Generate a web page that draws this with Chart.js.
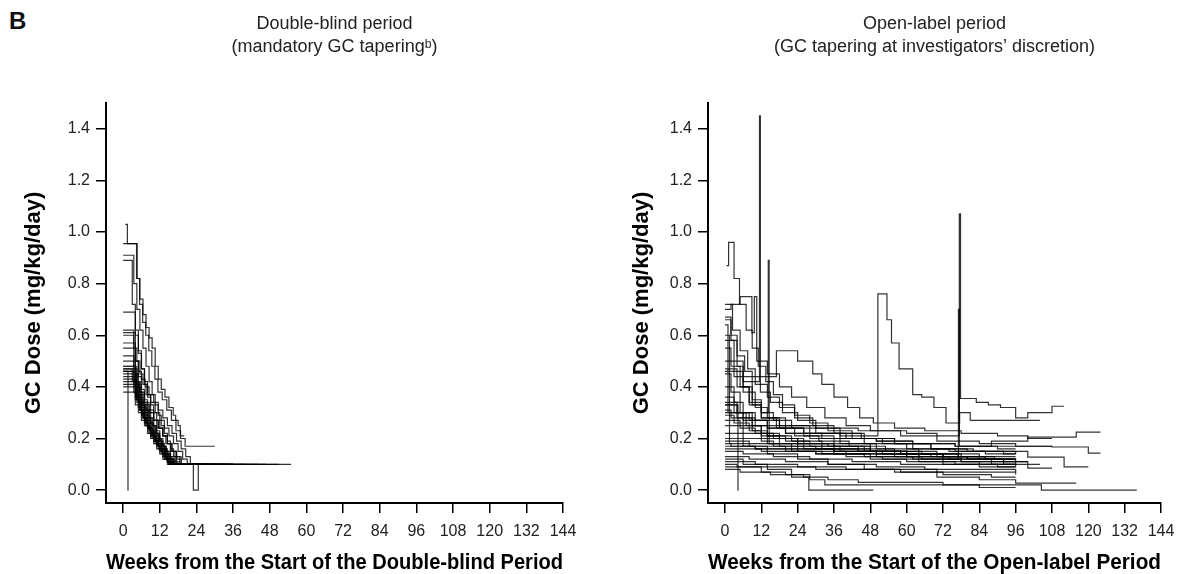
<!DOCTYPE html>
<html>
<head>
<meta charset="utf-8">
<script src="https://cdn.jsdelivr.net/npm/chart.js@4.4.1/dist/chart.umd.min.js"></script>
<style>
  html, body { margin: 0; padding: 0; background: #fff; overflow: hidden; }
  #wrap { position: relative; width: 1189px; height: 574px; }
  #panelLabel { position: absolute; left: 9px; top: 9px; font: bold 24px "Liberation Sans", Arial, sans-serif; line-height: 1; color: #111; }
  canvas { position: absolute; top: 0; }
  #chartDoubleBlind { left: 0; }
  #chartOpenLabel { left: 600px; }
</style>
</head>
<body>
<div id="wrap">
  <div id="panelLabel">B</div>
  <canvas id="chartDoubleBlind" width="600" height="574"></canvas>
  <canvas id="chartOpenLabel" width="589" height="574"></canvas>
</div>
<script>
// tick labels shared by both panels
const weekTicks = [0, 12, 24, 36, 48, 60, 72, 84, 96, 108, 120, 132, 144];
const doseTicks = [0, 0.2, 0.4, 0.6, 0.8, 1.0, 1.2, 1.4];

// double-blind period: [week, GC dose mg/kg/day] at each dose change, one array per patient
const db01 = [[0.7,1.03],[1.4,0.955],[4.6,0.82],[5.5,0.74],[6.5,0.68],[7.5,0.63],[8.5,0.59],[9.5,0.55],[10.5,0.48],[11.5,0.43],[12.5,0.39],[13.7,0.36],[15,0.32],[16.4,0.29],[17.2,0.27],[18,0.25],[18.7,0.21],[20,0.21]];
const db02 = [[0,0.955],[4.4,0.82],[5.4,0.72],[6.4,0.65],[7.4,0.6],[8.4,0.54],[9.4,0.48],[10.4,0.43],[11.4,0.38],[12.8,0.35],[14.3,0.31],[15.8,0.27],[17.3,0.23],[18.8,0.2],[20.3,0.17],[30,0.17]];
const db03 = [[0,0.91],[3.5,0.8],[4.5,0.7],[5.5,0.62],[6.5,0.55],[7.5,0.48],[8.5,0.42],[9.5,0.37],[10.5,0.33],[11.5,0.29],[12.5,0.25],[13.5,0.22],[14.5,0.19],[15.5,0.16],[16.5,0.13],[17.5,0.1],[28,0.1]];
const db04 = [[0,0.89],[3,0.72],[4,0.62],[5,0.54],[6,0.47],[7,0.41],[8,0.36],[9,0.31],[10,0.27],[11,0.23],[12,0.2],[13,0.17],[14,0.14],[15.5,0.12],[17,0.1],[26,0.1]];
const db05 = [[0,0.69],[4,0.6],[5,0.53],[6,0.47],[7,0.42],[8,0.37],[9,0.33],[10,0.3],[11,0.27],[12,0.24],[13,0.21],[14,0.18],[15.5,0.15],[17,0.13],[18.5,0.1],[30,0.1]];
const db06 = [[0,0.62],[3.5,0.55],[4.5,0.5],[5.5,0.45],[6.5,0.41],[7.5,0.37],[9,0.34],[10.5,0.3],[12,0.27],[13.5,0.24],[15,0.21],[16.5,0.18],[18,0.15],[19.5,0.12],[21,0.1],[36,0.1]];
const db07 = [[0,0.61],[4,0.5],[5,0.44],[6,0.39],[7,0.35],[8,0.31],[9,0.28],[10,0.25],[11,0.22],[12,0.19],[13,0.16],[14,0.13],[15.5,0.1],[36,0.1]];
const db08 = [[0,0.6],[3.5,0.47],[4.5,0.42],[5.5,0.38],[6.5,0.34],[7.5,0.31],[8.5,0.28],[9.5,0.25],[10.5,0.22],[11.5,0.2],[12.5,0.17],[13.5,0.15],[14.5,0.12],[16,0.1],[34,0.1]];
const db09 = [[0,0.57],[4,0.45],[5,0.41],[6,0.37],[7,0.33],[8.5,0.3],[10,0.27],[11.5,0.24],[13,0.21],[14.5,0.18],[16,0.15],[17.5,0.13],[19,0.1],[24,0.1]];
const db10 = [[0,0.55],[4,0.5],[5,0.46],[6,0.43],[7.2,0.4],[8.5,0.37],[10,0.34],[11.5,0.31],[13,0.28],[14.5,0.25],[16,0.22],[17.5,0.19],[19,0.16],[20.5,0.13],[22,0.1],[25,0.1]];
const db11 = [[0,0.52],[3.5,0.44],[4.5,0.4],[5.5,0.36],[6.5,0.33],[7.5,0.3],[8.5,0.27],[9.5,0.25],[10.5,0.22],[11.5,0.2],[12.5,0.18],[13.5,0.16],[14.5,0.14],[15.5,0.12],[16.5,0.1],[24,0.1]];
const db12 = [[0,0.5],[4,0.42],[5,0.38],[6,0.34],[7,0.31],[8,0.28],[9,0.26],[10,0.23],[11,0.21],[12,0.19],[13,0.17],[14,0.15],[15,0.13],[16,0.11],[17,0.1],[28,0.1]];
const db13 = [[0,0.48],[4.5,0.4],[5.5,0.35],[6.5,0.32],[7.5,0.29],[8.5,0.26],[9.5,0.23],[10.5,0.2],[11.5,0.18],[12.5,0.16],[13.5,0.14],[14.5,0.12],[15.5,0.1],[51,0.1]];
const db14 = [[0,0.47],[3,0.42],[4,0.37],[5,0.33],[6,0.3],[7,0.27],[8,0.25],[9,0.22],[10,0.2],[11,0.18],[12,0.16],[13,0.14],[14,0.12],[15,0.1],[36,0.1]];
const db15 = [[0,0.46],[4,0.38],[5,0.34],[6,0.31],[7,0.28],[8,0.25],[9,0.23],[10,0.21],[11,0.19],[12.5,0.17],[14,0.15],[15.5,0.13],[17,0.11],[18,0.1],[23,0],[24.6,0.1],[27,0.1]];
const db16 = [[0,0.46],[3.5,0.4],[4.5,0.36],[5.5,0.32],[6.5,0.29],[7.5,0.26],[8.5,0.24],[9.5,0.21],[10.5,0.19],[11.5,0.17],[12.5,0.15],[13.5,0.13],[14.5,0.11],[15.5,0.1],[32,0.1]];
const db17 = [[0,0.45],[4.5,0.37],[5.5,0.34],[6.5,0.3],[7.5,0.27],[8.5,0.24],[9.5,0.22],[10.5,0.2],[11.5,0.18],[12.5,0.16],[13.5,0.14],[15,0.12],[16.5,0.1],[40,0.1]];
const db18 = [[0,0.44],[3.5,0.38],[4.5,0.35],[5.5,0.31],[6.5,0.28],[7.5,0.26],[8.5,0.23],[9.5,0.21],[10.5,0.19],[11.5,0.17],[12.5,0.15],[13.5,0.13],[14.5,0.11],[16,0.1],[26,0.1]];
const db19 = [[0,0.43],[4,0.36],[5,0.33],[6,0.3],[7,0.27],[8,0.25],[9,0.22],[10,0.2],[11,0.18],[12,0.16],[13,0.14],[14,0.12],[15,0.1],[44,0.1]];
const db20 = [[0,0.42],[4.5,0.35],[5.5,0.31],[6.5,0.28],[7.5,0.25],[8.5,0.23],[9.5,0.21],[10.5,0.19],[11.5,0.17],[12.5,0.15],[13.5,0.13],[14.5,0.11],[16,0.1],[55,0.1]];
const db21 = [[0,0.41],[4,0.35],[5,0.32],[6,0.29],[7,0.26],[8,0.24],[9,0.21],[10,0.19],[11,0.17],[12,0.15],[13,0.13],[14.5,0.11],[16,0.1],[34,0.1]];
const db22 = [[0,0.4],[4.5,0.34],[5.5,0.31],[6.5,0.28],[7.5,0.25],[8.5,0.22],[9.5,0.2],[10.5,0.18],[11.5,0.16],[12.5,0.14],[13.5,0.12],[15,0.1],[47,0.1]];
const db23 = [[0,0.38],[4,0.33],[5,0.3],[6,0.27],[7,0.25],[8,0.22],[9,0.2],[10,0.18],[11,0.16],[12,0.14],[13,0.12],[14.5,0.1],[30,0.1]];
const db24 = [[0,0.46],[1.6,0],[1.8,0]];
const db25 = [[0,0.47],[4,0.41],[5,0.37],[6,0.33],[7,0.3],[8,0.27],[9,0.24],[10,0.22],[11,0.2],[12,0.18],[13,0.16],[14,0.14],[15,0.12],[16.5,0.1],[36,0.1]];
const db26 = [[0,0.48],[4,0.42],[5.5,0.38],[7,0.34],[8.5,0.3],[10,0.27],[11.5,0.24],[13,0.21],[14.5,0.18],[16,0.15],[17.5,0.12],[19,0.1],[28,0.1]];

// open-label period
const ol01 = [[0.5,0.87],[1.2,0.96],[3,0.82],[4.8,0.72],[7,0.62],[9,0.55],[11,0.48],[13.5,0.42],[16,0.37],[19,0.33],[23,0.29],[28,0.26],[34,0.23],[42,0.2],[52,0.18],[62,0.16],[74,0.15],[86,0.14],[96,0.14]];
const ol02 = [[0,0.66],[2,0.6],[4,0.52],[6.5,0.46],[9,0.42],[11.4,1.45],[11.7,0.38],[15,0.34],[19,0.3],[24,0.27],[30,0.24],[38,0.22],[46,0.2],[56,0.18],[68,0.16],[80,0.15],[92,0.14],[96,0.14]];
const ol03 = [[0,0.58],[3,0.5],[6,0.42],[9,0.35],[12,0.3],[14.3,0.89],[14.6,0.18],[22,0.17],[32,0.16],[44,0.15],[56,0.14],[68,0.13],[80,0.12],[92,0.11],[100,0.11]];
const ol04 = [[0,0.7],[2,0.72],[5,0.75],[8.9,0.61],[9.7,0.75],[10.5,0.5],[14,0.45],[18,0.4],[22,0.36],[27,0.32],[33,0.28],[40,0.25],[48,0.23],[58,0.21],[70,0.19],[84,0.18],[96,0.17],[108,0.17]];
const ol05 = [[0,0.46],[6,0.44],[17,0.54],[24,0.5],[29,0.45],[32,0.41],[36,0.36],[40.5,0.32],[44.5,0.28],[49,0.26],[56,0.24],[66,0.23],[78,0.22],[90,0.21],[100,0.2],[108,0.2]];
const ol06 = [[0,0.3],[6,0.27],[14,0.24],[26,0.22],[38,0.21],[50.5,0.76],[53.5,0.66],[55,0.57],[57.5,0.47],[62,0.37],[65,0.36],[69,0.32],[73,0.26],[77.5,0.3],[81,0.27],[104,0.27]];
const ol07 = [[0,0.34],[4,0.3],[10,0.27],[18,0.25],[30,0.24],[44,0.23],[60,0.22],[70,0.21],[77.4,1.07],[77.8,0.355],[83,0.34],[87,0.33],[91,0.32],[96,0.28],[100,0.3],[108,0.325],[112,0.325]];
const ol08 = [[0,0.16],[12,0.15],[30,0.14],[50,0.13],[65,0.12],[77.1,0.7],[77.4,0.17],[90,0.16],[96,0.16]];
const ol09 = [[0,0.08],[5,0.07],[15,0.06],[22,0.05],[27.7,0],[49,0]];
const ol10 = [[0,0.12],[6,0.1],[14,0.08],[22,0.06],[28,0.04],[33,0.02],[70,0.02],[104.5,0],[136,0]];
const ol11 = [[0,0.67],[2,0.58],[4,0.48],[6,0.4],[9,0.33],[12,0.28],[17,0.24],[23,0.21],[31,0.19],[41,0.17],[53,0.15],[65,0.14],[77,0.13],[89,0.12],[96,0.12]];
const ol12 = [[0,0.72],[2.5,0.62],[5,0.54],[7.5,0.47],[10,0.41],[14,0.36],[18,0.32],[23,0.28],[29,0.25],[36,0.22],[45,0.2],[56,0.18],[68,0.16],[82,0.15],[100,0.128],[112,0.09],[120,0.09]];
const ol13 = [[0,0.55],[2,0.48],[5,0.4],[8,0.34],[12,0.3],[16,0.27],[22,0.24],[30,0.22],[40,0.2],[50,0.19],[62,0.18],[76,0.17],[88,0.19],[100,0.205],[116,0.225],[124,0.225]];
const ol14 = [[0,0.5],[3,0.44],[6,0.38],[10,0.32],[14,0.28],[20,0.25],[28,0.22],[38,0.2],[50,0.19],[62,0.18],[76,0.17],[90,0.17],[108,0.167],[120,0.143],[124,0.143]];
const ol15 = [[0,0.47],[4,0.4],[8,0.33],[12,0.28],[18,0.24],[26,0.21],[36,0.18],[48,0.15],[60,0.13],[72,0.11],[84,0.1],[96,0.09]];
const ol16 = [[0,0.45],[2,0.38],[5,0.3],[9,0.25],[14,0.21],[20,0.19],[28,0.17],[38,0.15],[50,0.14],[64,0.13],[80,0.12],[96,0.11]];
const ol17 = [[0,0.33],[4,0.3],[8,0.27],[14,0.24],[20,0.22],[28,0.2],[38,0.18],[50,0.16],[64,0.14],[78,0.12],[92,0.11],[100,0.085],[108,0.085]];
const ol18 = [[0,0.31],[2,0.28],[6,0.25],[12,0.22],[18,0.2],[26,0.18],[36,0.17],[48,0.15],[60,0.13],[74,0.12],[88,0.1],[96,0.1]];
const ol19 = [[0,0.29],[3,0.26],[8,0.23],[14,0.21],[22,0.19],[32,0.17],[44,0.16],[56,0.15],[70,0.14],[84,0.13],[96,0.13]];
const ol20 = [[0,0.27],[5,0.24],[10,0.22],[16,0.2],[24,0.18],[34,0.17],[46,0.15],[58,0.14],[72,0.13],[86,0.12],[96,0.12]];
const ol21 = [[0,0.2],[6,0.17],[14,0.14],[24,0.12],[34,0.1],[46,0.08],[58,0.07],[70,0.05],[84,0.04],[96,0.027],[116,0.027]];
const ol22 = [[0,0.22],[6,0.2],[14,0.18],[24,0.16],[36,0.15],[50,0.14],[64,0.12],[78,0.11],[92,0.1],[104,0.1]];
const ol23 = [[0,0.19],[8,0.18],[18,0.17],[30,0.16],[44,0.15],[58,0.14],[72,0.13],[86,0.12],[96,0.12]];
const ol24 = [[0,0.18],[2,0.17],[10,0.16],[20,0.15],[32,0.14],[46,0.13],[62,0.12],[78,0.11],[96,0.1]];
const ol25 = [[0,0.15],[6,0.14],[16,0.13],[28,0.12],[42,0.11],[58,0.1],[74,0.1],[90,0.09],[96,0.09]];
const ol26 = [[0,0.13],[8,0.12],[20,0.11],[34,0.1],[50,0.09],[66,0.08],[82,0.08],[96,0.07]];
const ol27 = [[0,0.11],[10,0.1],[24,0.09],[40,0.08],[56,0.07],[72,0.06],[88,0.05],[96,0.05]];
const ol28 = [[0,0.1],[4,0.09],[12,0.07],[20,0.06],[26,0.05],[34,0.04],[44,0.03],[60,0.03],[72,0.02],[84,0.01],[96,0.01]];
const ol29 = [[0,0.09],[12,0.09],[30,0.08],[50,0.08],[70,0.07],[96,0.06]];
const ol30 = [[0,0.4],[3,0.34],[6,0.28],[9,0.23],[12,0.19],[16,0.17],[22,0.15],[30,0.14],[40,0.13],[52,0.12],[64,0.11],[76,0.1],[88,0.1],[96,0.1]];
const ol31 = [[0,0.36],[3,0.3],[7,0.25],[12,0.21],[18,0.18],[26,0.16],[36,0.14],[48,0.12],[60,0.11],[72,0.1],[84,0.09],[96,0.09]];
const ol32 = [[0,0.25],[6,0.22],[14,0.2],[24,0.18],[36,0.16],[48,0.15],[60,0.14],[72,0.13]];
const ol33 = [[0,0.17],[10,0.16],[24,0.15],[40,0.14],[56,0.13],[64,0.13]];
const ol34 = [[0,0.33],[4.3,0],[4.5,0]];
const ol35 = [[0,0.64],[1,0.3],[4,0.28],[10,0.25],[20,0.22],[32,0.2],[46,0.18],[60,0.16],[76,0.15],[96,0.14]];
const ol36 = [[0,0.6],[1.5,0.18],[8,0.17],[20,0.16],[36,0.15],[52,0.14],[70,0.13],[84,0.12]];

const doubleBlindSubjects = [db01, db02, db03, db04, db05, db06, db07, db08, db09, db10, db11, db12, db13,
  db14, db15, db16, db17, db18, db19, db20, db21, db22, db23, db24, db25, db26];
const openLabelSubjects = [ol01, ol02, ol03, ol04, ol05, ol06, ol07, ol08, ol09, ol10, ol11, ol12, ol13, ol14,
  ol15, ol16, ol17, ol18, ol19, ol20, ol21, ol22, ol23, ol24, ol25, ol26, ol27, ol28, ol29, ol30, ol31, ol32,
  ol33, ol34, ol35, ol36];

const fontFamily = '"Liberation Sans", Arial, Helvetica, sans-serif';
const lineColor = 'rgba(0, 0, 0, 0.8)';

function renderPanel(canvasId, subjects, titleLines, xTitle, layoutCfg) {
    const ctx = document.getElementById(canvasId).getContext('2d');
    new Chart(ctx, {
        type: 'line',
        data: {
            datasets: subjects.map(s => ({
                data: s.map(p => ({ x: p[0], y: p[1] })),
                stepped: 'before',
                borderColor: lineColor,
                borderWidth: 1.2,
                pointRadius: 0,
                fill: false
            }))
        },
        options: {
            responsive: false,
            animation: false,
            events: [],
            layout: { padding: { left: 0, right: layoutCfg.padRight, top: 0, bottom: 0 } },
            plugins: {
                legend: { display: false },
                tooltip: { enabled: false },
                title: {
                    display: true,
                    text: titleLines,
                    fullSize: false,
                    color: '#222',
                    font: { family: fontFamily, size: 18, weight: 'normal', lineHeight: 1.25 },
                    padding: { top: 13, bottom: 45 }
                }
            },
            scales: {
                x: {
                    type: 'linear',
                    min: -5.6,
                    max: 144,
                    afterBuildTicks: scale => { scale.ticks = weekTicks.map(v => ({ value: v })); },
                    afterFit: scale => { scale.height = 71; },
                    border: { display: true, color: '#000', width: 2 },
                    grid: { display: true, drawOnChartArea: false, drawTicks: true, tickLength: 10, color: '#000', lineWidth: 1.5 },
                    ticks: {
                        color: '#222',
                        font: { family: fontFamily, size: 16 },
                        padding: 9,
                        maxRotation: 0,
                        autoSkip: false,
                        callback: v => String(v)
                    },
                    title: {
                        display: true,
                        text: xTitle,
                        color: '#000',
                        font: { family: fontFamily, size: 22, weight: 'bold', lineHeight: 1 },
                        padding: { top: 0, bottom: 0 }
                    }
                },
                y: {
                    min: -0.05,
                    max: 1.5,
                    afterBuildTicks: scale => { scale.ticks = doseTicks.map(v => ({ value: v })); },
                    afterFit: scale => { scale.width = layoutCfg.yWidth; },
                    border: { display: true, color: '#000', width: 2 },
                    grid: { display: true, drawOnChartArea: false, drawTicks: true, tickLength: 10, color: '#000', lineWidth: 1.5 },
                    ticks: {
                        color: '#222',
                        font: { family: fontFamily, size: 16 },
                        padding: 6,
                        callback: v => v.toFixed(1)
                    },
                    title: {
                        display: true,
                        text: 'GC Dose (mg/kg/day)',
                        color: '#000',
                        font: { family: fontFamily, size: 22, weight: 'bold', lineHeight: 1 },
                        padding: { top: layoutCfg.yTitleOffset, bottom: 0 }
                    }
                }
            }
        }
    });
}

renderPanel('chartDoubleBlind', doubleBlindSubjects,
    ['Double-blind period', '(mandatory GC tapering\u1D47)'],
    'Weeks from the Start of the Double-blind Period',
    { padRight: 37, yWidth: 106, yTitleOffset: 23 });

renderPanel('chartOpenLabel', openLabelSubjects,
    ['Open-label period', '(GC tapering at investigators\u2019 discretion)'],
    'Weeks from the Start of the Open-label Period',
    { padRight: 28, yWidth: 108, yTitleOffset: 31 });
</script>
</body>
</html>
